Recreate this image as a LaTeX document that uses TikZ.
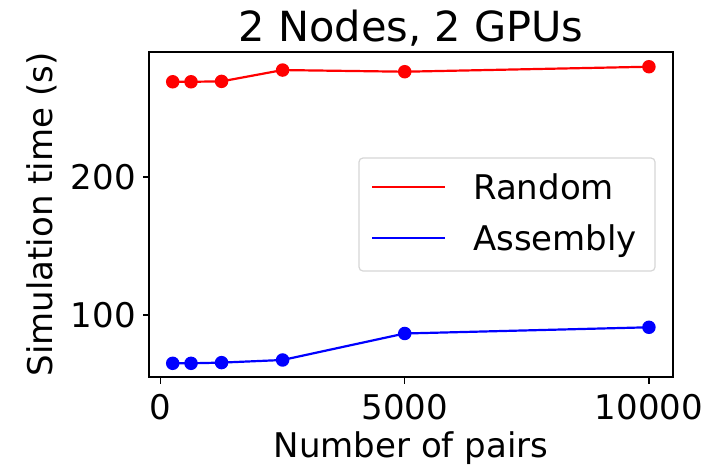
\documentclass[tikz,border=0pt]{standalone}
\usepackage{fontspec}
\setmainfont{DejaVu Sans}
\begin{document}
\begin{tikzpicture}[x=1pt,y=-1pt,
  tickfont/.style={font=\fontsize{34}{40}\selectfont, inner sep=0pt},
  spine/.style={line width=1.3pt, black},
  tickmark/.style={line width=1.3pt, black},
  series/.style={line width=2.2pt},
  rdot/.style={circle, fill=red, inner sep=0pt, minimum size=13.5pt},
  bdot/.style={circle, fill=blue, inner sep=0pt, minimum size=13.5pt},
  legframe/.style={draw=black!20, line width=1.2pt, rounded corners=4pt, fill=white, fill opacity=0.8, draw opacity=0.8}]
\useasboundingbox (0,0) rectangle (720,469);
\fill[white] (0,0) rectangle (720,469);

% data in axis units: x = number of pairs, y = seconds
\begin{scope}[shift={(160.5,453)}, x={(0.04885pt,0pt)}, y={(0pt,1.38pt)}]
  \coordinate (r1) at (250,269.0);
  \coordinate (r2) at (625,269.0);
  \coordinate (r3) at (1250,269.3);
  \coordinate (r4) at (2500,277.5);
  \coordinate (r5) at (5000,276.3);
  \coordinate (r6) at (10000,279.9);
  \coordinate (b1) at (250,65.0);
  \coordinate (b2) at (625,65.0);
  \coordinate (b3) at (1250,65.5);
  \coordinate (b4) at (2500,67.4);
  \coordinate (b5) at (5000,86.6);
  \coordinate (b6) at (10000,91.1);
\end{scope}

\draw[series, red] (r1) -- (r2) -- (r3) -- (r4) -- (r5) -- (r6);
\draw[series, blue] (b1) -- (b2) -- (b3) -- (b4) -- (b5) -- (b6);
\foreach \i in {1,...,6}{
  \node[rdot] (rm\i) at (r\i) {};
  \node[bdot] (bm\i) at (b\i) {};
}

% axes frame
\draw[spine] (149,52) rectangle (673,377);

% y ticks
\draw[tickmark] (149,177) -- (142.5,177);
\draw[tickmark] (149,315) -- (142.5,315);
\node[tickfont, anchor=east] (y200) at (136,177) {200};
\node[tickfont, anchor=east] (y100) at (136,315) {100};

% x ticks
\draw[tickmark] (160.5,377) -- (160.5,383.5);
\draw[tickmark] (404.75,377) -- (404.75,383.5);
\draw[tickmark] (649,377) -- (649,383.5);
\node[tickfont, anchor=base] (x0) at (160.5,419) {0};
\node[tickfont, anchor=base] (x5) at (404.75,419) {5000};
\node[tickfont, anchor=base] (x10) at (649,419) {10000};

% axis labels and title
\node[tickfont, anchor=base] (xlab) at (411,457) {Number of pairs};
\node[tickfont, rotate=90, anchor=center] (ylab) at (42,214.5) {Simulation time (s)};
\node[font=\fontsize{41.5}{48}\selectfont, inner sep=0pt, anchor=base] (title) at (411,41.5) {2 Nodes, 2 GPUs};

% legend
\draw[legframe] (359,158) rectangle (655,271);
\coordinate (lr1) at (372,187);
\coordinate (lr2) at (445,187);
\coordinate (lb1) at (372,238);
\coordinate (lb2) at (445,238);
\draw[series, red, line width=2pt] (lr1) -- (lr2);
\draw[series, blue, line width=2pt] (lb1) -- (lb2);
\node[tickfont, anchor=base west] (lrand) at (473,199) {Random};
\node[tickfont, anchor=base west] (lasm) at (473,250) {Assembly};
\end{tikzpicture}
\end{document}
